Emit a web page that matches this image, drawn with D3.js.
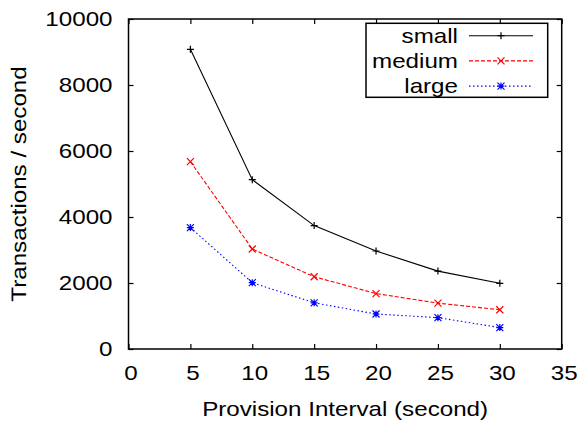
<!DOCTYPE html>
<meta charset="utf-8">
<style>
body { margin: 0; background: #fff; }
text { font-family: "Liberation Sans", Arial, Helvetica, sans-serif; font-size: 21px; fill: #000; }
.axis path { display: none; }
.axis line { stroke: #000; stroke-width: 1.2px; }
.frame { fill: none; stroke: #000; stroke-width: 1.5px; }
.line { fill: none; stroke-width: 1.1px; }
.ylabel { -webkit-font-smoothing: antialiased; text-rendering: geometricPrecision; opacity: 0.999; }
</style>
<svg width="580" height="424"></svg>
<script src="https://d3js.org/d3.v7.min.js"></script>
<script>

var intervals = [5, 10, 15, 20, 25, 30];
var small  = [9080, 5130, 3740, 2970, 2360, 1990];
var medium = [5680, 3030, 2190, 1680, 1390, 1190];
var large  = [3680, 2010, 1400, 1060, 950, 650];

var xTicks = [0, 5, 10, 15, 20, 25, 30, 35];
var yTicks = [0, 2000, 4000, 6000, 8000, 10000];

var series = [
  {name: "small",  values: small,  color: "#000000", dash: null,      marker: "plus"},
  {name: "medium", values: medium, color: "#ff0000", dash: "4,2",     marker: "cross"},
  {name: "large",  values: large,  color: "#0000ff", dash: "1.5,2.5", marker: "star"}
];

var svg = d3.select("svg"),
    margin = {top: 19, right: 18.3, bottom: 75, left: 128.5},
    width = svg.attr("width") - margin.left - margin.right,
    height = svg.attr("height") - margin.top - margin.bottom,
    g = svg.append("g").attr("transform", "translate(" + margin.left + "," + margin.top + ")");

var x = d3.scaleLinear().domain([0, 35]).range([0, width]),
    y = d3.scaleLinear().domain([0, 10000]).range([height, 0]);

// gnuplot style markers, drawn as strokes
function markerPath(type, s) {
  var p = d3.path();
  if (type === "plus" || type === "star") {
    p.moveTo(-s, 0); p.lineTo(s, 0);
    p.moveTo(0, -s); p.lineTo(0, s);
  }
  if (type === "cross" || type === "star") {
    p.moveTo(-s, -s); p.lineTo(s, s);
    p.moveTo(-s, s); p.lineTo(s, -s);
  }
  return p.toString();
}

// axes with inward ticks on all four sides
g.append("g").attr("class", "axis")
    .attr("transform", "translate(0," + height + ")")
    .call(d3.axisBottom(x).tickValues(xTicks).tickSizeInner(-5).tickSizeOuter(0).tickPadding(16))
    .selectAll("text").attr("dx", 2);

g.append("g").attr("class", "axis")
    .call(d3.axisTop(x).tickValues(xTicks).tickSizeInner(-5).tickSizeOuter(0).tickFormat(""));

g.append("g").attr("class", "axis")
    .call(d3.axisLeft(y).tickValues(yTicks).tickFormat(d3.format("d"))
      .tickSizeInner(-5).tickSizeOuter(0).tickPadding(16));

g.append("g").attr("class", "axis")
    .attr("transform", "translate(" + width + ",0)")
    .call(d3.axisRight(y).tickValues(yTicks).tickSizeInner(-5).tickSizeOuter(0).tickFormat(""));

g.selectAll(".axis text").style("font-size", "21px").style("font-family", null);

// lines
var line = d3.line()
    .x(function(d) { return x(d.x); })
    .y(function(d) { return y(d.y); });

var trend = g.selectAll(".trend")
  .data(series)
  .enter().append("g")
    .attr("class", "trend");

trend.append("path")
    .attr("class", "line")
    .attr("d", function(s) {
      return line(s.values.map(function(v, i) { return {x: intervals[i], y: v}; }));
    })
    .style("stroke", function(s) { return s.color; })
    .style("stroke-dasharray", function(s) { return s.dash; });

trend.selectAll(".pt")
  .data(function(s) {
    return s.values.map(function(v, i) { return {x: intervals[i], y: v, s: s}; });
  })
  .enter().append("path")
    .attr("class", "pt")
    .attr("transform", function(d) { return "translate(" + x(d.x) + "," + y(d.y) + ")"; })
    .attr("d", function(d) { return markerPath(d.s.marker, 3.5); })
    .style("fill", "none")
    .style("stroke", function(d) { return d.s.color; })
    .style("stroke-width", 1.2);

// frame
g.append("rect")
    .attr("class", "frame")
    .attr("width", width)
    .attr("height", height);

// legend
var legend = svg.append("g");

legend.append("rect")
    .attr("x", 366)
    .attr("y", 23.3)
    .attr("width", 181.7)
    .attr("height", 74)
    .style("fill", "#fff")
    .style("stroke", "#000")
    .style("stroke-width", 1.5);

var item = legend.selectAll(".item")
  .data(series)
  .enter().append("g")
    .attr("class", "item")
    .attr("transform", function(d, i) { return "translate(0," + (35.7 + i * 25.2) + ")"; });

item.append("text")
    .attr("x", 458)
    .attr("dy", "0.35em")
    .style("text-anchor", "end")
    .text(function(d) { return d.name; });

item.append("line")
    .attr("x1", 469)
    .attr("x2", 533)
    .style("stroke", function(d) { return d.color; })
    .style("stroke-width", 1.1)
    .style("stroke-dasharray", function(d) { return d.dash; });

item.append("path")
    .attr("transform", "translate(501,0)")
    .attr("d", function(d) { return markerPath(d.marker, 3.5); })
    .style("fill", "none")
    .style("stroke", function(d) { return d.color; })
    .style("stroke-width", 1.2);

// axis titles
svg.append("text")
    .attr("x", margin.left + width / 2)
    .attr("y", 416)
    .style("text-anchor", "middle")
    .text("Provision Interval (second)");

svg.append("text")
    .attr("class", "ylabel")
    .attr("transform", "translate(26," + (margin.top + height / 2) + ") rotate(-90)")
    .style("text-anchor", "middle")
    .text("Transactions / second");

// the original font is a little wider than Liberation Sans
svg.selectAll("text").each(function() {
  var w = this.getComputedTextLength();
  if (w > 0) {
    this.setAttribute("textLength", w * 1.15);
    this.setAttribute("lengthAdjust", "spacingAndGlyphs");
  }
});

</script>
